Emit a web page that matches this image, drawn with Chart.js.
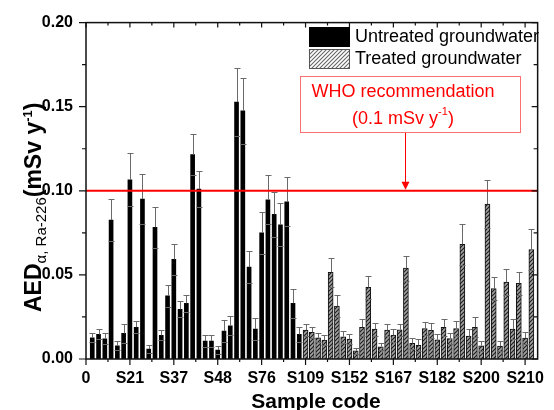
<!DOCTYPE html>
<html>
<head>
<meta charset="utf-8">
<title>AED Ra-226 in groundwater</title>
<script src="https://cdn.jsdelivr.net/npm/chart.js@4.4.0/dist/chart.umd.min.js"></script>
<style>
  html, body { margin: 0; padding: 0; background: #fff; }
</style>
</head>
<body>
<canvas id="aed-chart" width="554" height="410"></canvas>
<script>
const FONT = 'Arial, "Liberation Sans", sans-serif';

// Untreated groundwater samples (x positions 1-34)
const untreatedValues = [0.0126, 0.0146, 0.0120, 0.0826, 0.0079, 0.0152, 0.1065, 0.0189, 0.0951, 0.0059,
  0.0783, 0.0140, 0.0375, 0.0592, 0.0296, 0.0331, 0.1215, 0.1010, 0.0107, 0.0107,
  0.0053, 0.0166, 0.0197, 0.1528, 0.1475, 0.0546, 0.0178, 0.0750, 0.0947, 0.0860,
  0.0797, 0.0935, 0.0331, 0.0146];
const untreatedErrors = [0.0026, 0.0030, 0.0032, 0.0124, 0.0026, 0.0055, 0.0158, 0.0034, 0.0146, 0.0024,
  0.0122, 0.0030, 0.0067, 0.0094, 0.0047, 0.0052, 0.0120, 0.0108, 0.0033, 0.0033,
  0.0024, 0.0065, 0.0057, 0.0202, 0.0195, 0.0095, 0.0067, 0.0126, 0.0146, 0.0134,
  0.0128, 0.0146, 0.0087, 0.0047];

// Treated groundwater samples (x positions 35-71)
const treatedValues = [0.0172, 0.0158, 0.0126, 0.0112, 0.0515, 0.0314, 0.0132, 0.0118, 0.0049, 0.0189,
  0.0426, 0.0178, 0.0073, 0.0172, 0.0142, 0.0174, 0.0540, 0.0093, 0.0081, 0.0181,
  0.0170, 0.0114, 0.0189, 0.0122, 0.0181, 0.0682, 0.0136, 0.0189, 0.0079, 0.0921,
  0.0418, 0.0077, 0.0458, 0.0178, 0.0450, 0.0124, 0.0651];
const treatedErrors = [0.0035, 0.0033, 0.0026, 0.0030, 0.0087, 0.0065, 0.0036, 0.0030, 0.0018, 0.0050,
  0.0069, 0.0039, 0.0020, 0.0037, 0.0039, 0.0037, 0.0075, 0.0033, 0.0035, 0.0040,
  0.0047, 0.0034, 0.0051, 0.0034, 0.0046, 0.0123, 0.0044, 0.0058, 0.0029, 0.0142,
  0.0069, 0.0028, 0.0075, 0.0057, 0.0069, 0.0034, 0.0122];

// Sample codes printed under every 7th position, and y axis ticks
const xTickLabels = ["0", "S21", "S37", "S48", "S76", "S109", "S152", "S167", "S182", "S200", "S210"];
const xTickStep = 7;
const yTickValues = [0, 0.05, 0.10, 0.15, 0.20];
const whoLimit = 0.1;

const untreatedStart = 1;
const treatedStart = untreatedStart + untreatedValues.length;

// Diagonal hatch used for the treated bars and their legend box
function makeHatch(bg, lineColor) {
  const c = document.createElement('canvas');
  c.width = 4;
  c.height = 4;
  const g = c.getContext('2d');
  g.fillStyle = bg;
  g.fillRect(0, 0, 4, 4);
  g.strokeStyle = lineColor;
  g.lineWidth = 1.1;
  g.beginPath();
  g.moveTo(0, 4); g.lineTo(4, 0);
  g.moveTo(-1, 1); g.lineTo(1, -1);
  g.moveTo(3, 5); g.lineTo(5, 3);
  g.stroke();
  return g.createPattern(c, 'repeat');
}
const barHatch = makeHatch('#a2a2a2', '#1c1c1c');
const legendHatch = makeHatch('#fff', '#666');

// Error bars: line up from the bar top plus caps at value +/- error
const errorBars = {
  id: 'errorBars',
  afterDatasetsDraw(chart) {
    const ctx = chart.ctx;
    const yScale = chart.scales.y;
    ctx.save();
    ctx.strokeStyle = '#6a6a6a';
    ctx.lineWidth = 1;
    chart.data.datasets.forEach((ds, d) => {
      chart.getDatasetMeta(d).data.forEach((bar, i) => {
        const v = ds.data[i].y;
        const e = ds.errors[i];
        const x = Math.round(bar.x) + 0.5;
        const top = Math.round(yScale.getPixelForValue(v + e)) + 0.5;
        const low = Math.round(yScale.getPixelForValue(v - e)) + 0.5;
        ctx.beginPath();
        ctx.moveTo(x, bar.y);
        ctx.lineTo(x, top);
        ctx.moveTo(x - 3, top);
        ctx.lineTo(x + 3, top);
        ctx.moveTo(x - 3, low);
        ctx.lineTo(x + 3, low);
        ctx.stroke();
      });
    });
    ctx.restore();
  }
};

// Frame, tick marks, WHO line + note, legend and axis titles
const decorations = {
  id: 'decorations',
  afterDraw(chart) {
    const ctx = chart.ctx;
    const area = chart.chartArea;
    const xs = chart.scales.x;
    const ys = chart.scales.y;

    ctx.save();

    // WHO limit line
    const yLimit = ys.getPixelForValue(whoLimit);
    ctx.strokeStyle = '#ff0000';
    ctx.lineWidth = 2;
    ctx.beginPath();
    ctx.moveTo(area.left, yLimit);
    ctx.lineTo(area.right, yLimit);
    ctx.stroke();

    // frame
    ctx.strokeStyle = '#111';
    ctx.lineWidth = 1.5;
    ctx.strokeRect(area.left, area.top, area.right - area.left, area.bottom - area.top);

    // x ticks: major every 7, minor halfway
    ctx.lineWidth = 1.2;
    ctx.beginPath();
    for (let v = 0; v <= xs.max; v += xTickStep / 2) {
      const px = xs.getPixelForValue(v);
      const major = (v % xTickStep) === 0;
      ctx.moveTo(px, area.bottom);
      ctx.lineTo(px, area.bottom + (major ? 6 : 3));
      ctx.moveTo(px, area.top);
      ctx.lineTo(px, area.top + (major ? 5 : 3));
    }
    // y ticks: major every 0.05, minor halfway
    for (let k = 0; k <= 8; k++) {
      const py = ys.getPixelForValue(k * 0.025);
      const major = k % 2 === 0;
      ctx.moveTo(area.left, py);
      ctx.lineTo(area.left - (major ? 7 : 4), py);
      ctx.moveTo(area.right, py);
      ctx.lineTo(area.right - (major ? 6 : 4), py);
    }
    ctx.stroke();

    // legend
    ctx.fillStyle = '#000';
    ctx.fillRect(309, 27, 41, 20);
    ctx.fillStyle = legendHatch;
    ctx.fillRect(309, 49, 41, 20);
    ctx.strokeStyle = '#555';
    ctx.lineWidth = 1;
    ctx.strokeRect(309.5, 49.5, 40, 19);
    ctx.fillStyle = '#000';
    ctx.font = '18px ' + FONT;
    ctx.textAlign = 'left';
    ctx.textBaseline = 'middle';
    ctx.fillText('Untreated groundwater', 355, 37);
    ctx.fillText('Treated groundwater', 355, 59);

    // WHO note box with arrow down to the limit line
    ctx.strokeStyle = '#ff6f6f';
    ctx.lineWidth = 1;
    ctx.strokeRect(300.5, 76.5, 220, 56);
    ctx.strokeStyle = '#ff0000';
    ctx.beginPath();
    ctx.moveTo(405.5, 133);
    ctx.lineTo(405.5, yLimit - 6);
    ctx.stroke();
    ctx.fillStyle = '#ff0000';
    ctx.beginPath();
    ctx.moveTo(401.5, yLimit - 9);
    ctx.lineTo(409.5, yLimit - 9);
    ctx.lineTo(405.5, yLimit - 1);
    ctx.closePath();
    ctx.fill();

    ctx.textAlign = 'center';
    ctx.font = '18px ' + FONT;
    ctx.fillText('WHO recommendation', 403, 92);
    const parts = [['(0.1 mSv y', '18px', 0], ['-1', '11px', -7], [')', '18px', 0]];
    let total = 0;
    parts.forEach(p => { ctx.font = p[1] + ' ' + FONT; total += ctx.measureText(p[0]).width; });
    let px = 403 - total / 2;
    ctx.textAlign = 'left';
    parts.forEach(p => {
      ctx.font = p[1] + ' ' + FONT;
      ctx.fillText(p[0], px, 119 + p[2]);
      px += ctx.measureText(p[0]).width;
    });

    // x axis title
    ctx.fillStyle = '#000';
    ctx.font = 'bold 21px ' + FONT;
    ctx.textAlign = 'center';
    ctx.textBaseline = 'alphabetic';
    ctx.fillText('Sample code', 316, 408);

    // y axis title, rotated, with subscript and superscript
    ctx.translate(41, 312);
    ctx.rotate(-Math.PI / 2);
    ctx.textAlign = 'left';
    let tx = 0;
    const put = (text, font, dy) => {
      ctx.font = font;
      ctx.fillText(text, tx, dy);
      tx += ctx.measureText(text).width;
    };
    put('AED', 'bold 23px ' + FONT, 0);
    put('\u03b1, Ra-226', '15px ' + FONT, 5);
    put('(mSv y', 'bold 23px ' + FONT, 0);
    put('-1', 'bold 13px ' + FONT, -9);
    put(')', 'bold 23px ' + FONT, 0);

    ctx.restore();
  }
};

const untreatedPoints = untreatedValues.map((v, i) => ({ x: untreatedStart + i, y: v }));
const treatedPoints = treatedValues.map((v, i) => ({ x: treatedStart + i, y: v }));

const tickFont = { family: FONT, size: 16, weight: 'bold' };

const aedChart = new Chart(document.getElementById('aed-chart'), {
  type: 'bar',
  data: {
    datasets: [{
      label: 'Untreated groundwater',
      data: untreatedPoints,
      errors: untreatedErrors,
      backgroundColor: '#000',
      borderWidth: 0,
      barThickness: 4
    }, {
      label: 'Treated groundwater',
      data: treatedPoints,
      errors: treatedErrors,
      backgroundColor: barHatch,
      borderColor: '#111',
      borderWidth: 1,
      barThickness: 5
    }]
  },
  options: {
    responsive: false,
    devicePixelRatio: 1,
    animation: false,
    grouped: false,
    layout: { padding: { top: 21, right: 8, left: 0, bottom: 0 } },
    plugins: {
      legend: { display: false },
      tooltip: { enabled: false }
    },
    scales: {
      x: {
        type: 'linear',
        offset: false,
        min: 0,
        max: 72,
        afterBuildTicks: s => { s.ticks = xTickLabels.map((t, i) => ({ value: i * xTickStep })); },
        afterFit: s => { s.height = 51; },
        grid: { display: false, drawTicks: false, offset: false },
        border: { display: false },
        ticks: {
          color: '#000',
          font: tickFont,
          padding: 10,
          maxRotation: 0,
          autoSkip: false,
          callback: v => xTickLabels[Math.round(v / xTickStep)]
        }
      },
      y: {
        min: 0,
        max: 0.2,
        afterBuildTicks: s => { s.ticks = yTickValues.map(v => ({ value: v })); },
        afterFit: s => { s.width = 86; },
        grid: { display: false, drawTicks: false },
        border: { display: false },
        ticks: {
          color: '#000',
          font: tickFont,
          padding: 13,
          callback: v => v.toFixed(2)
        }
      }
    }
  },
  plugins: [errorBars, decorations]
});
</script>
</body>
</html>
